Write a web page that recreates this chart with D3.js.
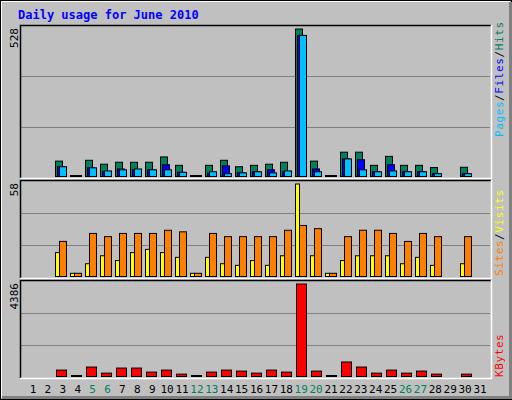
<!DOCTYPE html>
<html><head><meta charset="utf-8">
<script src="https://cdn.jsdelivr.net/npm/d3@7"></script>
<style>body{margin:0;background:#fff}</style>
</head><body>
<script>
const days = d3.range(1, 32);
const weekend = [5, 6, 12, 13, 19, 20, 26, 27];
const hits  = [0,0,55,1,58,44,51,51,51,70,40,1,40,58,35,40,44,51,528,55,1,87,87,40,72,40,40,32,0,33,0];
const files = [0,0,35,1,31,18,27,24,24,42,15,1,12,38,13,17,24,17,505,27,1,63,60,17,42,17,17,10,0,10,0];
const pages = [0,0,35,1,31,20,24,27,24,24,15,1,17,10,13,17,13,20,505,17,1,63,24,17,20,17,17,10,0,10,0];
const visits = [0,0,15,2,8,13,10,15,17,15,12,2,12,8,7,10,7,13,58,13,2,10,13,13,13,8,12,7,0,8,0];
const sites  = [0,0,22,2,27,25,27,27,27,29,28,2,27,25,25,25,25,29,32,30,2,25,29,29,27,22,27,25,0,25,0];
const kbytes = [0,0,304,30,448,160,400,400,208,304,112,30,208,304,256,160,304,208,4386,256,30,688,448,160,304,160,256,112,0,112,0];

const W = 512, H = 400, mono = "'DejaVu Sans Mono', monospace";
const svg = d3.select("body").append("svg").attr("width", W).attr("height", H)
  .style("display", "block").style("font-family", mono);

// frame
svg.append("rect").attr("width", W).attr("height", H).attr("fill", "#c0c0c0");
svg.append("rect").attr("x", 0.5).attr("y", 0.5).attr("width", W - 1).attr("height", H - 1).attr("fill", "none").attr("stroke", "#000");
svg.append("path").attr("d", "M1.5,398V1.5H510").attr("stroke", "#fff").attr("fill", "none");
svg.append("path").attr("d", "M2,397.5H510.5V2").attr("stroke", "#808080").attr("stroke-width", 3).attr("fill", "none");

svg.append("text").attr("x", 18).attr("y", 19).attr("fill", "#0000ff").attr("font-weight", "bold")
  .attr("font-size", 12).text("Daily usage for June 2010");

const x = d3.scaleLinear().domain([1, 31]).range([33, 480]);   // labels
const xb = d3.scaleLinear().domain([1, 31]).range([33, 483]);  // bars
const left = 20, right = 491;

const panels = [
  {top: 25, bottom: 178, max: 528},
  {top: 180, bottom: 278, max: 58},
  {top: 280, bottom: 378, max: 4386}
];

panels.forEach(p => {
  svg.append("rect").attr("x", left).attr("y", p.top).attr("width", right - left).attr("height", p.bottom - p.top)
    .attr("fill", "#c0c0c0");
  p.y = d3.scaleLinear().domain([0, p.max]).range([p.bottom - 1.5, p.top + 4]);
  const g = p.bottom - p.top;
  [1, 2].forEach(i => svg.append("line").attr("x1", left + 1).attr("x2", right - 1)
    .attr("y1", Math.round(p.top + g * i / 3) + 0.5).attr("y2", Math.round(p.top + g * i / 3) + 0.5)
    .attr("stroke", "#808080"));
  svg.append("text").attr("transform", `translate(18,${p.top + 3}) rotate(-90)`).attr("text-anchor", "end")
    .attr("font-size", 11).attr("fill", "#000").text(p.max);
});

function bars(p, data, dx, w, color) {
  svg.append("g").selectAll("rect").data(days.filter((d, i) => data[i] > 0)).join("rect")
    .attr("x", d => Math.round(xb(d)) + dx + 0.5)
    .attr("y", d => Math.min(p.y(data[d - 1]), p.y(0) - 1) )
    .attr("width", w)
    .attr("height", d => Math.max(1, p.y(0) - p.y(data[d - 1])))
    .attr("fill", color).attr("stroke", "#000");
}
bars(panels[0], hits, -8, 7, "#00805c");
bars(panels[0], files, -6, 7, "#0000ff");
bars(panels[0], pages, -4, 7, "#00c0ff");
bars(panels[1], visits, -8, 4, "#ffff00");
bars(panels[1], sites, -4, 7, "#ff8000");
bars(panels[2], kbytes, -7, 10, "#ff0000");

// panel borders (inset)
panels.forEach(p => {
  svg.append("path").attr("d", `M${left + 0.5},${p.bottom}V${p.top + 0.5}H${right}`).attr("stroke", "#000").attr("fill", "none").attr("stroke-width", 1.5);
  svg.append("path").attr("d", `M${left},${p.bottom + 0.5}H${right + 0.5}V${p.top}`).attr("stroke", "#fff").attr("fill", "none").attr("stroke-width", 1.5);
});

// day labels
svg.append("g").selectAll("text").data(days).join("text")
  .attr("x", d => x(d)).attr("y", 393).attr("text-anchor", "middle").attr("font-size", 11)
  .attr("fill", d => weekend.includes(d) ? "#00805c" : "#000").text(d => d);

// right legends
function legendUp(yBottom, parts) {
  const t = svg.append("text").attr("transform", `translate(503,${yBottom}) rotate(-90)`)
    .attr("font-size", 11).attr("letter-spacing", 0.6);
  parts.forEach(([s, c]) => t.append("tspan").attr("fill", c).text(s));
}
legendUp(137, [["Pages", "#00c0ff"], ["/", "#000"], ["Files", "#0000ff"], ["/", "#000"], ["Hits", "#00805c"]]);
legendUp(276, [["Sites", "#ff8000"], ["/", "#000"], ["Visits", "#ffff00"]]);
legendUp(377, [["KBytes", "#ff0000"]]);
</script>
</body></html>
